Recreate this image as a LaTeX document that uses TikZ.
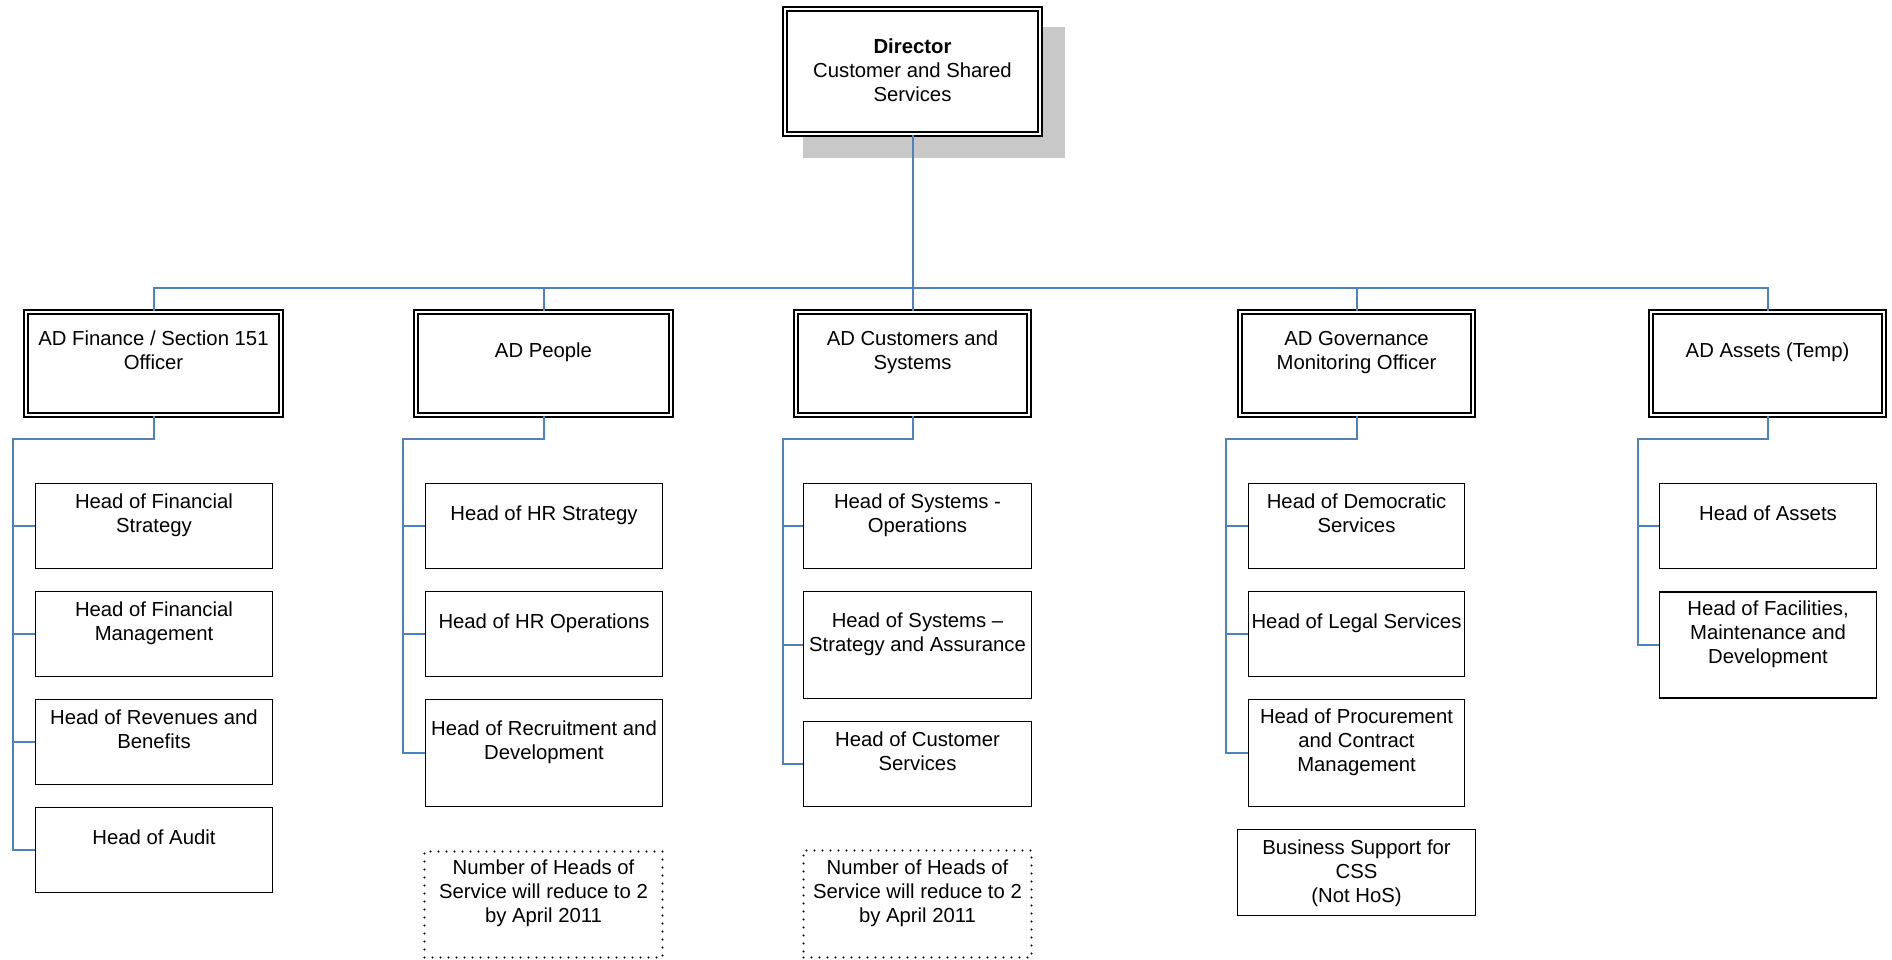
\documentclass[tikz,border=0pt]{standalone}
\usepackage{fontspec}
\setmainfont{Liberation Sans}
\definecolor{linkblue}{RGB}{79,129,189}
\definecolor{shadowgray}{RGB}{200,200,200}
\begin{document}
\begin{tikzpicture}[x=1pt,y=-1pt,
  every node/.style={font=\fontsize{20.3pt}{24pt}\selectfont},
  adbox/.style={draw=black, double, double distance=2.6pt, line width=1.4pt, fill=white, inner sep=0pt},
  headbox/.style={draw=black, line width=1.5pt, fill=white, inner sep=0pt},
  notebox/.style={draw=black, line width=2.2pt, line cap=round, dash pattern=on 0pt off 8pt, inner sep=0pt},
  txt/.style={align=center, inner sep=0pt},
  link/.style={draw=linkblue, line width=2pt}]
\useasboundingbox (0,0) rectangle (1892,960);
\newcommand{\orgbox}[7]{% style, name, cx, cy, w, h, text
  \node[#1, minimum width=#5pt, minimum height=#6pt] (#2) at (#3,#4) {};
  \node[txt] (#2t) at ([yshift=10.6pt]#2.center) {\strut #7\strut};}

% Director with shadow
\fill[shadowgray] (803,27) rectangle (1065,158);
\node[adbox, minimum width=255pt, minimum height=125pt] (dir) at (912.5,71.5) {};
\node[txt] (dirt) at ([yshift=-1.5pt]dir.center) {\strut\textbf{Director}\\Customer and Shared\\Services\strut};

% AD row
\orgbox{adbox}{adf}{153.5}{363.5}{255}{103}{AD Finance / Section 151\\Officer}
\orgbox{adbox}{adp}{543.5}{363.5}{255}{103}{AD People}
\orgbox{adbox}{adc}{912.5}{363.5}{233}{103}{AD Customers and\\Systems}
\orgbox{adbox}{adg}{1356.5}{363.5}{233}{103}{AD Governance\\Monitoring Officer}
\orgbox{adbox}{ada}{1767.5}{363.5}{233}{103}{AD Assets (Temp)}

% Column 1
\orgbox{headbox}{fa}{154}{526}{237}{85}{Head of Financial\\Strategy}
\orgbox{headbox}{fb}{154}{634}{237}{85}{Head of Financial\\Management}
\orgbox{headbox}{fc}{154}{742}{237}{85}{Head of Revenues and\\Benefits}
\orgbox{headbox}{fd}{154}{850}{237}{85}{Head of Audit}

% Column 2
\orgbox{headbox}{pa}{544}{526}{237}{85}{Head of HR Strategy}
\orgbox{headbox}{pb}{544}{634}{237}{85}{Head of HR Operations}
\orgbox{headbox}{pc}{544}{753}{237}{107}{Head of Recruitment and\\Development}
\orgbox{notebox}{pn}{543.5}{904.5}{238}{106}{Number of Heads of\\Service will reduce to 2\\by April 2011}

% Column 3
\orgbox{headbox}{ca}{917.5}{526}{228}{85}{Head of Systems -\\Operations}
\orgbox{headbox}{cb}{917.5}{645}{228}{107}{Head of Systems --\\Strategy and Assurance}
\orgbox{headbox}{cc}{917.5}{764}{228}{85}{Head of Customer\\Services}
\orgbox{notebox}{cn}{917.5}{904}{228}{107}{Number of Heads of\\Service will reduce to 2\\by April 2011}

% Column 4
\orgbox{headbox}{ga}{1356.5}{526}{216}{85}{Head of Democratic\\Services}
\orgbox{headbox}{gb}{1356.5}{634}{216}{85}{Head of Legal Services}
\orgbox{headbox}{gc}{1356.5}{753}{216}{107}{Head of Procurement\\and Contract\\Management}
\node[headbox, minimum width=238pt, minimum height=86pt] (gs) at (1356.5,872.5) {};
\node[txt] (gst) at ([yshift=-1.5pt]gs.center) {\strut Business Support for\\CSS\\(Not HoS)\strut};

% Column 5
\orgbox{headbox}{aa}{1768}{526}{217}{85}{Head of Assets}
\orgbox{headbox}{ab}{1768}{645}{217}{106}{Head of Facilities,\\Maintenance and\\Development}

% Connectors: director to AD row
\coordinate (bus) at (0,288);
\draw[link] (dir.south) -- (dir.south |- bus);
\draw[link] (adf.north) |- (ada.north |- bus) -- (ada.north);
\draw[link] (adp.north) -- (adp.north |- bus);
\draw[link] (adc.north) -- (adc.north |- bus);
\draw[link] (adg.north) -- (adg.north |- bus);

% Spines
\coordinate (s1) at (13,439);
\coordinate (s2) at (403,439);
\coordinate (s3) at (783,439);
\coordinate (s4) at (1226,439);
\coordinate (s5) at (1638,439);
\draw[link] (adf.south) |- (s1) |- (fd.west);
\foreach \n in {fa,fb,fc} \draw[link] (\n.west) -- (\n.west -| s1);
\draw[link] (adp.south) |- (s2) |- (pc.west);
\foreach \n in {pa,pb} \draw[link] (\n.west) -- (\n.west -| s2);
\draw[link] (adc.south) |- (s3) |- (cc.west);
\foreach \n in {ca,cb} \draw[link] (\n.west) -- (\n.west -| s3);
\draw[link] (adg.south) |- (s4) |- (gc.west);
\foreach \n in {ga,gb} \draw[link] (\n.west) -- (\n.west -| s4);
\draw[link] (ada.south) |- (s5) |- (ab.west);
\draw[link] (aa.west) -- (aa.west -| s5);
\end{tikzpicture}
\end{document}
